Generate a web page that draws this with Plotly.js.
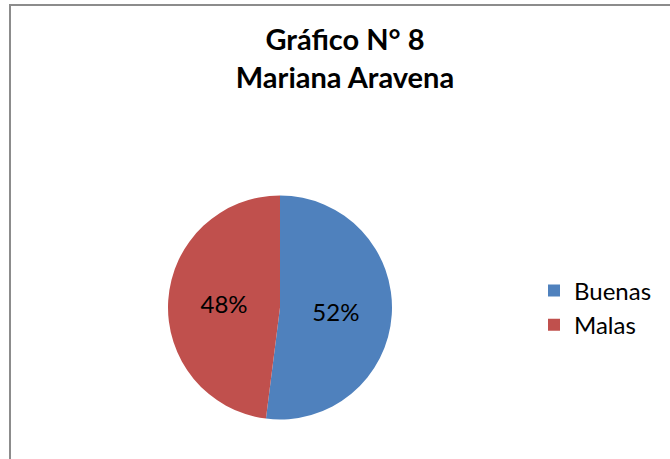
<!DOCTYPE html>
<html>
<head>
<meta charset="utf-8">
<script src="https://cdn.plot.ly/plotly-3.0.1.min.js"></script>
<style>html,body{margin:0;padding:0;background:#fff;}#chart{width:670px;height:459px;}</style>
</head>
<body>
<div id="chart"></div>
<script>
var categories = ["Buenas", "Malas"];
var values = [52, 48];
var colors = ["#4F81BD", "#C0504D"];
var titleText = "Gráfico N° 8<br>Mariana Aravena";

var W = 670, H = 459;
var cx = 280, cy = 307.5, r = 112;

var trace = {
  type: "pie",
  labels: categories,
  values: values,
  sort: false,
  direction: "clockwise",
  rotation: 0,
  marker: {colors: colors, line: {width: 0}},
  textinfo: "percent",
  textposition: "inside",
  insidetextorientation: "horizontal",
  textfont: {family: "Lato, 'Open Sans', sans-serif", size: 24, color: "#000"},
  hoverinfo: "none",
  domain: {
    x: [(cx - r) / W, (cx + r) / W],
    y: [(H - cy - r) / H, (H - cy + r) / H]
  }
};

var layout = {
  width: W, height: H,
  margin: {l: 0, r: 0, t: 0, b: 0},
  paper_bgcolor: "#fff",
  showlegend: true,
  title: {
    text: titleText,
    font: {family: "Lato, 'Open Sans', sans-serif", size: 29, color: "#000", weight: "bold"},
    x: 345 / W, xanchor: "center", xref: "paper",
    y: 1 - 50 / H, yanchor: "top", yref: "container"
  },
  legend: {
    x: 534 / W, xanchor: "left",
    y: (H - 308) / H, yanchor: "middle",
    font: {family: "Lato, 'Open Sans', sans-serif", size: 24, color: "#000"},
    bgcolor: "rgba(0,0,0,0)"
  },
  shapes: [{
    type: "rect", xref: "paper", yref: "paper",
    x0: 10 / W, x1: 1.05, y0: -0.05, y1: 1 - 5 / H,
    line: {color: "#8c8c8c", width: 2}
  }]
};

Plotly.newPlot("chart", [trace], layout, {displayModeBar: false, staticPlot: true});
</script>
</body>
</html>
